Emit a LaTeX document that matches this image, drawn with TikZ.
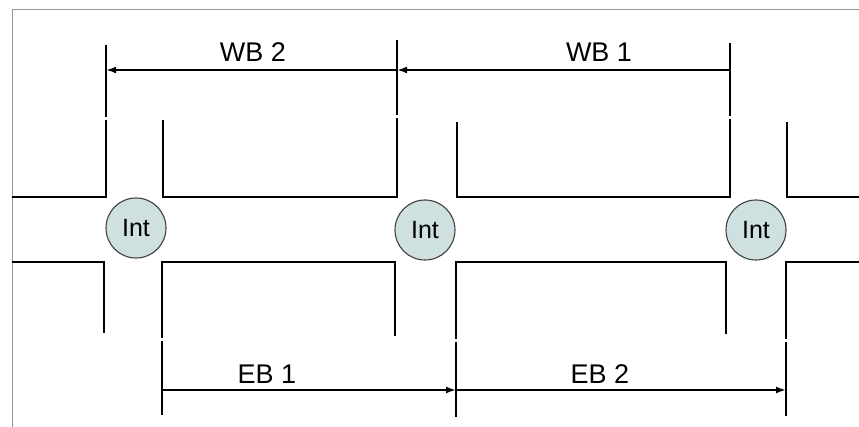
\documentclass[tikz,border=0pt]{standalone}
\usepackage{fontspec}
\setmainfont{Liberation Sans}
\usetikzlibrary{arrows.meta, positioning, calc}
\definecolor{intfill}{RGB}{206,224,224}
\definecolor{framegray}{RGB}{150,150,150}

\begin{document}
\begin{tikzpicture}[x=1pt, y=-1pt, line width=1.5pt,
    inter/.style={circle, draw=black!75, fill=intfill, line width=1.1pt, minimum size=60pt, inner sep=0pt, font=\fontsize{25}{25}\selectfont},
    dimlabel/.style={font=\fontsize{27}{27}\selectfont, inner sep=0pt, anchor=base},
    dimarrow/.style={-{Latex[length=10pt, width=7pt]}, line width=2.4pt}]
    \useasboundingbox (0,0) rectangle (859,427);
    \draw[framegray, line width=1pt] (12,427) -- (12,10) -- (859,10);
    % road edges
    \draw (12,197) -- (106,197) -- (106,120);
    \draw (163,120) -- (163,197) -- (397,197) -- (397,118);
    \draw (457,122) -- (457,197) -- (730,197) -- (730,119);
    \draw (787,122) -- (787,197) -- (859,197);
    \draw (12,262) -- (104,262) -- (104,333);
    \draw (162,338) -- (162,262) -- (395,262) -- (395,336);
    \draw (456,339) -- (456,262) -- (726,262) -- (726,334);
    \draw (786,339) -- (786,262) -- (859,262);
    % extension lines
    \draw (106,45) -- (106,117);
    \draw (397,40) -- (397,115);
    \draw (730,43) -- (730,116);
    \draw (162,341) -- (162,415);
    \draw (456,342) -- (456,417);
    \draw (786,342) -- (786,416);
    % intersections
    \node[inter] (int1) at (136,228) {Int};
    \node[inter] (int2) at (425,230) {Int};
    \node[inter] (int3) at (756,230) {Int};
    % westbound / eastbound
    \coordinate (wb1) at (106,70);
    \coordinate (wb2) at (397,70);
    \coordinate (wb3) at (730,70);
    \coordinate (eb1) at (162,390);
    \coordinate (eb2) at (456,390);
    \coordinate (eb3) at (786,390);
    \draw[dimarrow] (wb3) -- (wb2);
    \draw[dimarrow] (wb2) -- (wb1);
    \draw[dimarrow] (eb1) -- (eb2);
    \draw[dimarrow] (eb2) -- (eb3);
    \node[dimlabel] (wb2lbl) at (253,62) {WB 2};
    \node[dimlabel] (wb1lbl) at (599,62) {WB 1};
    \node[dimlabel] (eb1lbl) at (267,383) {EB 1};
    \node[dimlabel] (eb2lbl) at (600,383) {EB 2};
\end{tikzpicture}
\end{document}
